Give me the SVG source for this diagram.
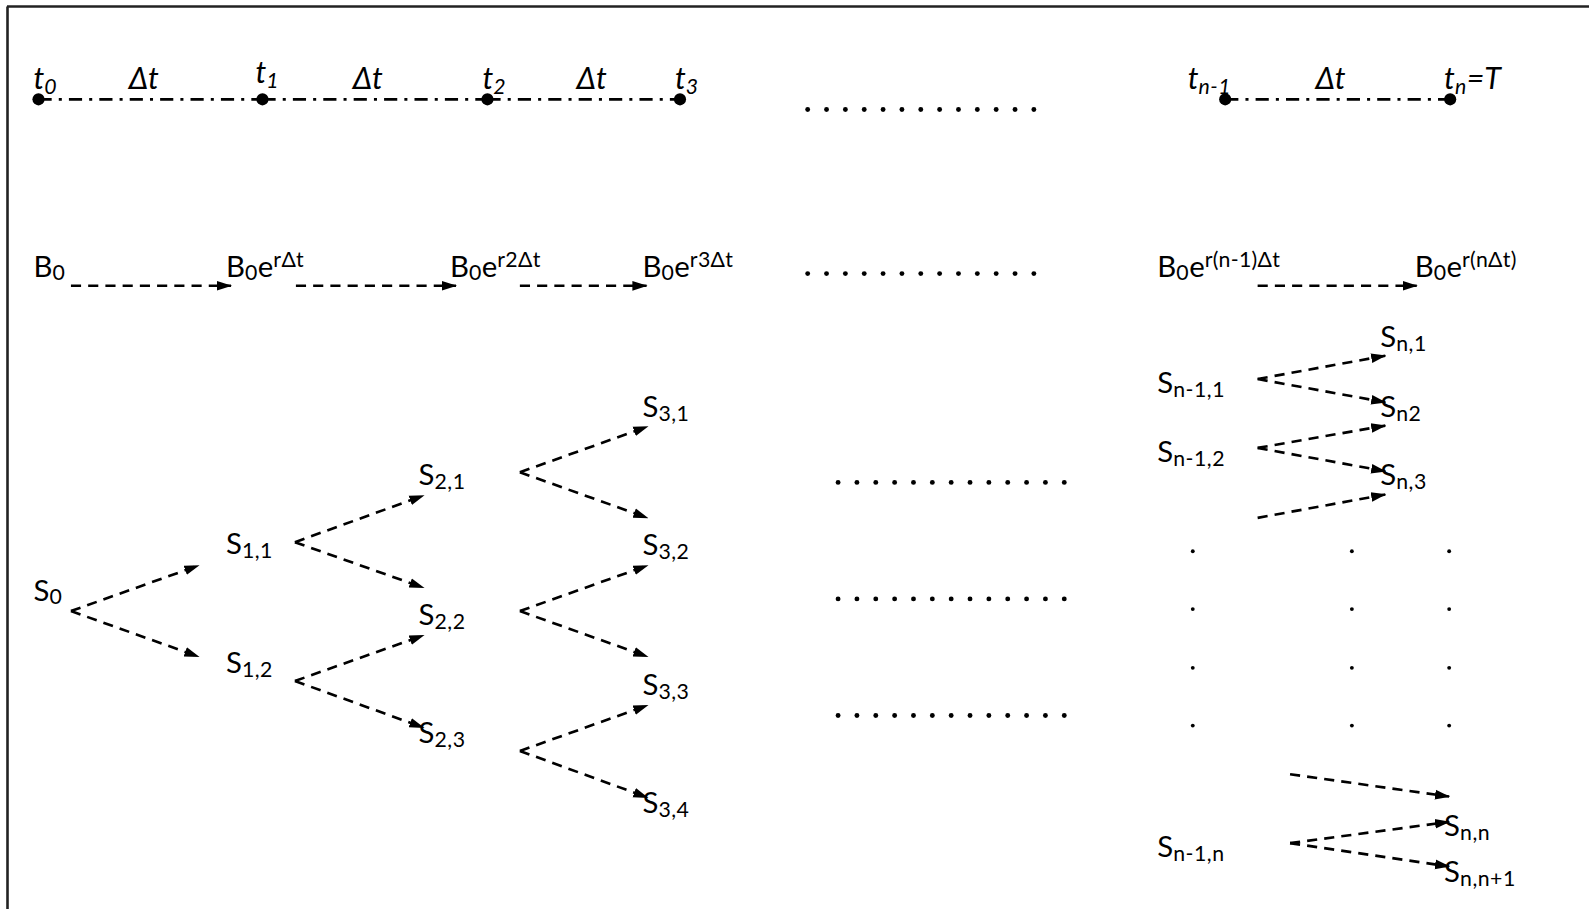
<svg xmlns="http://www.w3.org/2000/svg" width="1589" height="909" viewBox="0 0 1589 909">
<style>
.lbl{font-family:Lato,"Liberation Sans",sans-serif;font-size:29px;fill:#000}
.it{font-style:italic;font-size:30px}
.sub{font-size:21px;letter-spacing:0.5px}
.sup{font-size:21px;letter-spacing:0.3px}
.conn{stroke:#000;stroke-width:2.6;stroke-dasharray:10 7;fill:none;marker-end:url(#ah)}
.tl{stroke:#000;stroke-width:2.6;stroke-dasharray:13 7 3 7;fill:none}
.dot{fill:#000}
.sd{fill:#000}
</style>
<defs>
<marker id="ah" markerWidth="15" markerHeight="12" refX="14" refY="6" orient="auto" markerUnits="userSpaceOnUse">
<path d="M0,1.2 L15,6 L0,10.8 z" fill="#000"/>
</marker>
<g id="row13">
<circle cx="0" cy="0" r="2.4"/><circle cx="18.6" cy="0" r="2.4"/><circle cx="37.2" cy="0" r="2.4"/><circle cx="55.8" cy="0" r="2.4"/><circle cx="74.4" cy="0" r="2.4"/><circle cx="93" cy="0" r="2.4"/><circle cx="111.6" cy="0" r="2.4"/><circle cx="130.2" cy="0" r="2.4"/><circle cx="148.8" cy="0" r="2.4"/><circle cx="167.4" cy="0" r="2.4"/><circle cx="186" cy="0" r="2.4"/><circle cx="204.6" cy="0" r="2.4"/><circle cx="223.2" cy="0" r="2.4"/>
</g>
</defs>
<rect width="1589" height="909" fill="#fff"/>
<g id="frame" stroke="#222" stroke-width="2.6">
<line x1="7" y1="6.5" x2="1589" y2="6.5"/>
<line x1="7.5" y1="6.5" x2="7.5" y2="909"/>
</g>
<g transform="scale(1.0134)">
<g id="timeline">
<path class="tl" d="M38,98 H259 M259,98 H481 M481,98 H671 M1209,98 H1431"/>
<g id="t0"><circle class="dot" cx="38" cy="98" r="6"/><text class="lbl it" x="33" y="88">t<tspan class="sub" dy="5">0</tspan></text></g>
<g id="t1"><circle class="dot" cx="259" cy="98" r="6"/><text class="lbl it" x="252" y="82">t<tspan class="sub" dy="5">1</tspan></text></g>
<g id="t2"><circle class="dot" cx="481" cy="98" r="6"/><text class="lbl it" x="476" y="88">t<tspan class="sub" dy="5">2</tspan></text></g>
<g id="t3"><circle class="dot" cx="671" cy="98" r="6"/><text class="lbl it" x="666" y="88">t<tspan class="sub" dy="5">3</tspan></text></g>
<g id="tn1"><circle class="dot" cx="1209" cy="98" r="6"/><text class="lbl it" x="1172" y="88">t<tspan class="sub" dy="5">n-1</tspan></text></g>
<g id="tn"><circle class="dot" cx="1431" cy="98" r="6"/><text class="lbl it" x="1425" y="88">t<tspan class="sub" dy="5">n</tspan><tspan dy="-5">=T</tspan></text></g>
<text class="lbl it" x="127" y="88">Δt</text>
<text class="lbl it" x="348" y="88">Δt</text>
<text class="lbl it" x="569" y="88">Δt</text>
<text class="lbl it" x="1298" y="88">Δt</text>
</g>
<g id="ellipsis" class="sd">
<use href="#row13" x="797" y="108"/>
<use href="#row13" x="797" y="270"/>
<use href="#row13" x="827" y="476"/>
<use href="#row13" x="827" y="591"/>
<use href="#row13" x="827" y="706"/>
<circle cx="1177" cy="544" r="1.9"/><circle cx="1334" cy="544" r="1.9"/><circle cx="1430" cy="544" r="1.9"/>
<circle cx="1177" cy="601" r="1.9"/><circle cx="1334" cy="601" r="1.9"/><circle cx="1430" cy="601" r="1.9"/>
<circle cx="1177" cy="659" r="1.9"/><circle cx="1334" cy="659" r="1.9"/><circle cx="1430" cy="659" r="1.9"/>
<circle cx="1177" cy="716" r="1.9"/><circle cx="1334" cy="716" r="1.9"/><circle cx="1430" cy="716" r="1.9"/>
</g>
<g id="bonds">
<g id="B0"><text class="lbl" x="33" y="273">B<tspan class="sub" dy="3">0</tspan></text></g>
<g id="B1"><text class="lbl" x="223" y="273">B<tspan class="sub" dy="3">0</tspan><tspan dy="-3">e</tspan><tspan class="sup" dy="-10">rΔt</tspan></text></g>
<g id="B2"><text class="lbl" x="444" y="273">B<tspan class="sub" dy="3">0</tspan><tspan dy="-3">e</tspan><tspan class="sup" dy="-10">r2Δt</tspan></text></g>
<g id="B3"><text class="lbl" x="634" y="273">B<tspan class="sub" dy="3">0</tspan><tspan dy="-3">e</tspan><tspan class="sup" dy="-10">r3Δt</tspan></text></g>
<g id="Bn1"><text class="lbl" x="1142" y="273">B<tspan class="sub" dy="3">0</tspan><tspan dy="-3">e</tspan><tspan class="sup" dy="-10">r(n-1)Δt</tspan></text></g>
<g id="Bn"><text class="lbl" x="1396" y="273">B<tspan class="sub" dy="3">0</tspan><tspan dy="-3">e</tspan><tspan class="sup" dy="-10">r(nΔt)</tspan></text></g>
</g>
<g id="nodes">
<g id="S0"><text class="lbl" x="33" y="593">S<tspan class="sub" dy="3">0</tspan></text></g>
<g id="S11"><text class="lbl" x="223" y="547">S<tspan class="sub" dy="4">1,1</tspan></text></g>
<g id="S12"><text class="lbl" x="223" y="664">S<tspan class="sub" dy="4">1,2</tspan></text></g>
<g id="S21"><text class="lbl" x="413" y="479">S<tspan class="sub" dy="4">2,1</tspan></text></g>
<g id="S22"><text class="lbl" x="413" y="617">S<tspan class="sub" dy="4">2,2</tspan></text></g>
<g id="S23"><text class="lbl" x="413" y="733">S<tspan class="sub" dy="4">2,3</tspan></text></g>
<g id="S31"><text class="lbl" x="634" y="411">S<tspan class="sub" dy="4">3,1</tspan></text></g>
<g id="S32"><text class="lbl" x="634" y="548">S<tspan class="sub" dy="4">3,2</tspan></text></g>
<g id="S33"><text class="lbl" x="634" y="686">S<tspan class="sub" dy="4">3,3</tspan></text></g>
<g id="S34"><text class="lbl" x="634" y="802">S<tspan class="sub" dy="4">3,4</tspan></text></g>
<g id="Sn11"><text class="lbl" x="1142" y="388">S<tspan class="sub" dy="4">n-1,1</tspan></text></g>
<g id="Sn12"><text class="lbl" x="1142" y="456">S<tspan class="sub" dy="4">n-1,2</tspan></text></g>
<g id="Sn1n"><text class="lbl" x="1142" y="846">S<tspan class="sub" dy="4">n-1,n</tspan></text></g>
<g id="Sn1"><text class="lbl" x="1362" y="342">S<tspan class="sub" dy="4">n,1</tspan></text></g>
<g id="Sn2"><text class="lbl" x="1362" y="411">S<tspan class="sub" dy="4">n2</tspan></text></g>
<g id="Sn3"><text class="lbl" x="1362" y="479">S<tspan class="sub" dy="4">n,3</tspan></text></g>
<g id="Snn"><text class="lbl" x="1425" y="825">S<tspan class="sub" dy="4">n,n</tspan></text></g>
<g id="Snn1"><text class="lbl" x="1425" y="870">S<tspan class="sub" dy="4">n,n+1</tspan></text></g>
</g>
<g id="connectors">
<line class="conn" x1="70" y1="282" x2="228" y2="282"/>
<line class="conn" x1="292" y1="282" x2="450" y2="282"/>
<line class="conn" x1="513" y1="282" x2="638" y2="282"/>
<line class="conn" x1="1241" y1="282" x2="1398" y2="282"/>
<line class="conn" x1="70" y1="603" x2="196" y2="558"/>
<line class="conn" x1="70" y1="603" x2="196" y2="648"/>
<line class="conn" x1="291" y1="535" x2="418" y2="489"/>
<line class="conn" x1="291" y1="535" x2="418" y2="580"/>
<line class="conn" x1="291" y1="672" x2="418" y2="627"/>
<line class="conn" x1="291" y1="672" x2="418" y2="718"/>
<line class="conn" x1="513" y1="466" x2="639" y2="421"/>
<line class="conn" x1="513" y1="466" x2="639" y2="511"/>
<line class="conn" x1="513" y1="603" x2="639" y2="558"/>
<line class="conn" x1="513" y1="603" x2="639" y2="648"/>
<line class="conn" x1="513" y1="741" x2="639" y2="696"/>
<line class="conn" x1="513" y1="741" x2="639" y2="787"/>
<line class="conn" x1="1241" y1="374" x2="1367" y2="351"/>
<line class="conn" x1="1241" y1="374" x2="1367" y2="397"/>
<line class="conn" x1="1241" y1="442" x2="1367" y2="420"/>
<line class="conn" x1="1241" y1="442" x2="1367" y2="465"/>
<line class="conn" x1="1241" y1="511" x2="1367" y2="488"/>
<line class="conn" x1="1273" y1="764" x2="1430" y2="786"/>
<line class="conn" x1="1273" y1="832" x2="1430" y2="811"/>
<line class="conn" x1="1273" y1="832" x2="1430" y2="855"/>
</g>
</g>
</svg>
